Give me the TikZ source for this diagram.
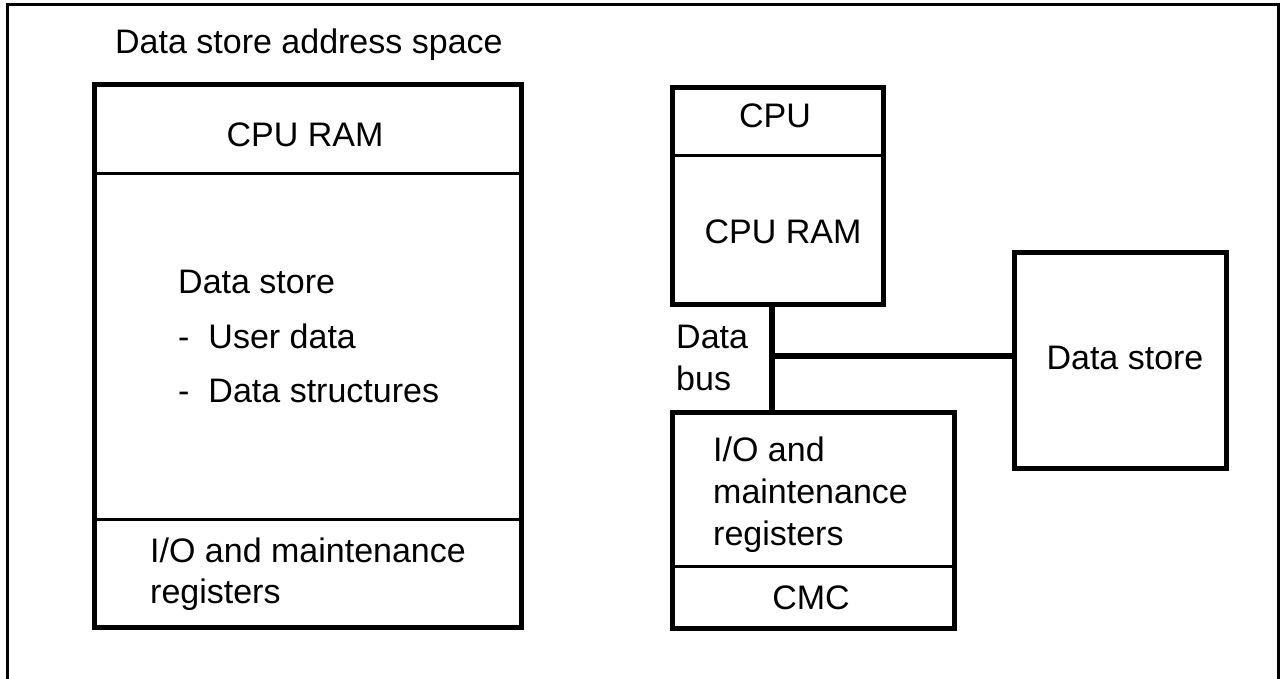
\documentclass[tikz,border=0pt]{standalone}
\usepackage{fontspec}
\setmainfont{Liberation Sans}
\begin{document}
\begin{tikzpicture}[x=1pt,y=-1pt,
  box/.style={draw,line width=5pt,rectangle,inner sep=0pt,anchor=north west},
  sep/.style={line width=3pt},
  frame/.style={line width=3pt},
  bus/.style={line width=6pt},
  txt/.style={inner sep=0pt,anchor=base west,font=\fontsize{34}{40}\selectfont},
  ctxt/.style={txt,anchor=base}]
\useasboundingbox (0,0) rectangle (1284,679);
\fill[white] (0,0) rectangle (1284,679);
% outer frame (bottom edge lies beyond the picture)
\coordinate (fbl) at (7,690);
\coordinate (ftl) at (7,5);
\coordinate (ftr) at (1278,5);
\coordinate (fbr) at (1278,690);
\draw[frame] (fbl) -- (ftl) -- (ftr) -- (fbr);
\node[txt] (title) at (115,54) {Data store address space};
% left address space box
\node[box,minimum width=427pt,minimum height=543pt] (left) at (92,82) {};
\coordinate (ls1) at (92,174);
\coordinate (ls2) at (92,519);
\draw[sep] (ls1) -- (ls1 -| left.east);
\draw[sep] (ls2) -- (ls2 -| left.east);
\node[ctxt] (lram) at (305,147) {CPU RAM};
\node[txt] (lds) at (178,293) {Data store};
\node[txt] (lud) at (178,348) {-\hspace{19pt}User data};
\node[txt] (ldst) at (178,402) {-\hspace{19pt}Data structures};
\node[txt] (lio1) at (150,562) {I/O and maintenance};
\node[txt] (lio2) at (150,603) {registers};
% CPU box
\node[box,minimum width=211pt,minimum height=217pt] (cpu) at (670,85) {};
\coordinate (cs1) at (670,156);
\draw[sep] (cs1) -- (cs1 -| cpu.east);
\node[ctxt] (cputxt) at (775,128) {CPU};
\node[ctxt] (cpuram) at (783,243) {CPU RAM};
% I/O box
\node[box,minimum width=282pt,minimum height=216pt] (io) at (670,410) {};
\coordinate (is1) at (670,566);
\draw[sep] (is1) -- (is1 -| io.east);
\node[txt] (io1) at (713,461) {I/O and};
\node[txt] (io2) at (713,503) {maintenance};
\node[txt] (io3) at (713,545) {registers};
\node[ctxt] (cmc) at (811,609) {CMC};
% Data store box
\node[box,minimum width=212pt,minimum height=216pt] (ds) at (1012,250) {};
\node[ctxt] (dstxt) at (1125,369) {Data store};
% data bus
\coordinate (j) at (772,356);
\draw[bus] (j |- cpu.south) -- (j |- io.north);
\draw[bus] (j) -- (j -| ds.west);
\node[txt] (db1) at (676,348) {Data};
\node[txt] (db2) at (676,390) {bus};
\end{tikzpicture}
\end{document}
